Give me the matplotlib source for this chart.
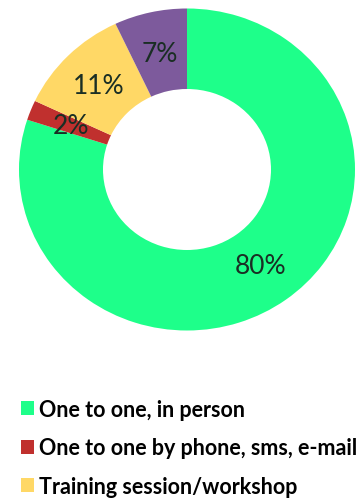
import matplotlib.pyplot as plt
from matplotlib.patches import Patch

categories = ["One to one, in person", "One to one by phone, sms, e-mail",
              "Training session/workshop"]
shares = [80, 2, 11, 7]
colors = ["#1EFF8A", "#C0302E", "#FFD866", "#7D5A9C"]

fig = plt.figure(figsize=(3.61, 5.02), dpi=100)
rx, ry = 168, 161
ax = fig.add_axes([(187 - rx) / 361, (502 - 170.5 - ry) / 502, 2 * rx / 361, 2 * ry / 502])

wedges, texts, autotexts = ax.pie(
    shares, colors=colors, startangle=90, counterclock=False,
    autopct="%d%%", pctdistance=0.74,
    wedgeprops=dict(width=0.5, linewidth=0),
    textprops=dict(fontsize=19, color="#1a2e24", family="Lato"),
)
ax.set_xlim(-1, 1)
ax.set_ylim(-1, 1)
ax.set_aspect("auto")

handles = [Patch(facecolor=c, edgecolor="none") for c in colors[:3]]
fig.legend(handles, categories, loc="upper left", bbox_to_anchor=(12 / 361, 1 - 391 / 502),
           frameon=False, handlelength=0.6, handleheight=0.6, handletextpad=0.25,
           labelspacing=0.82, borderaxespad=0,
           prop=dict(family="Lato", weight="bold", size=15.5))

fig.savefig("out.png", dpi=100)
